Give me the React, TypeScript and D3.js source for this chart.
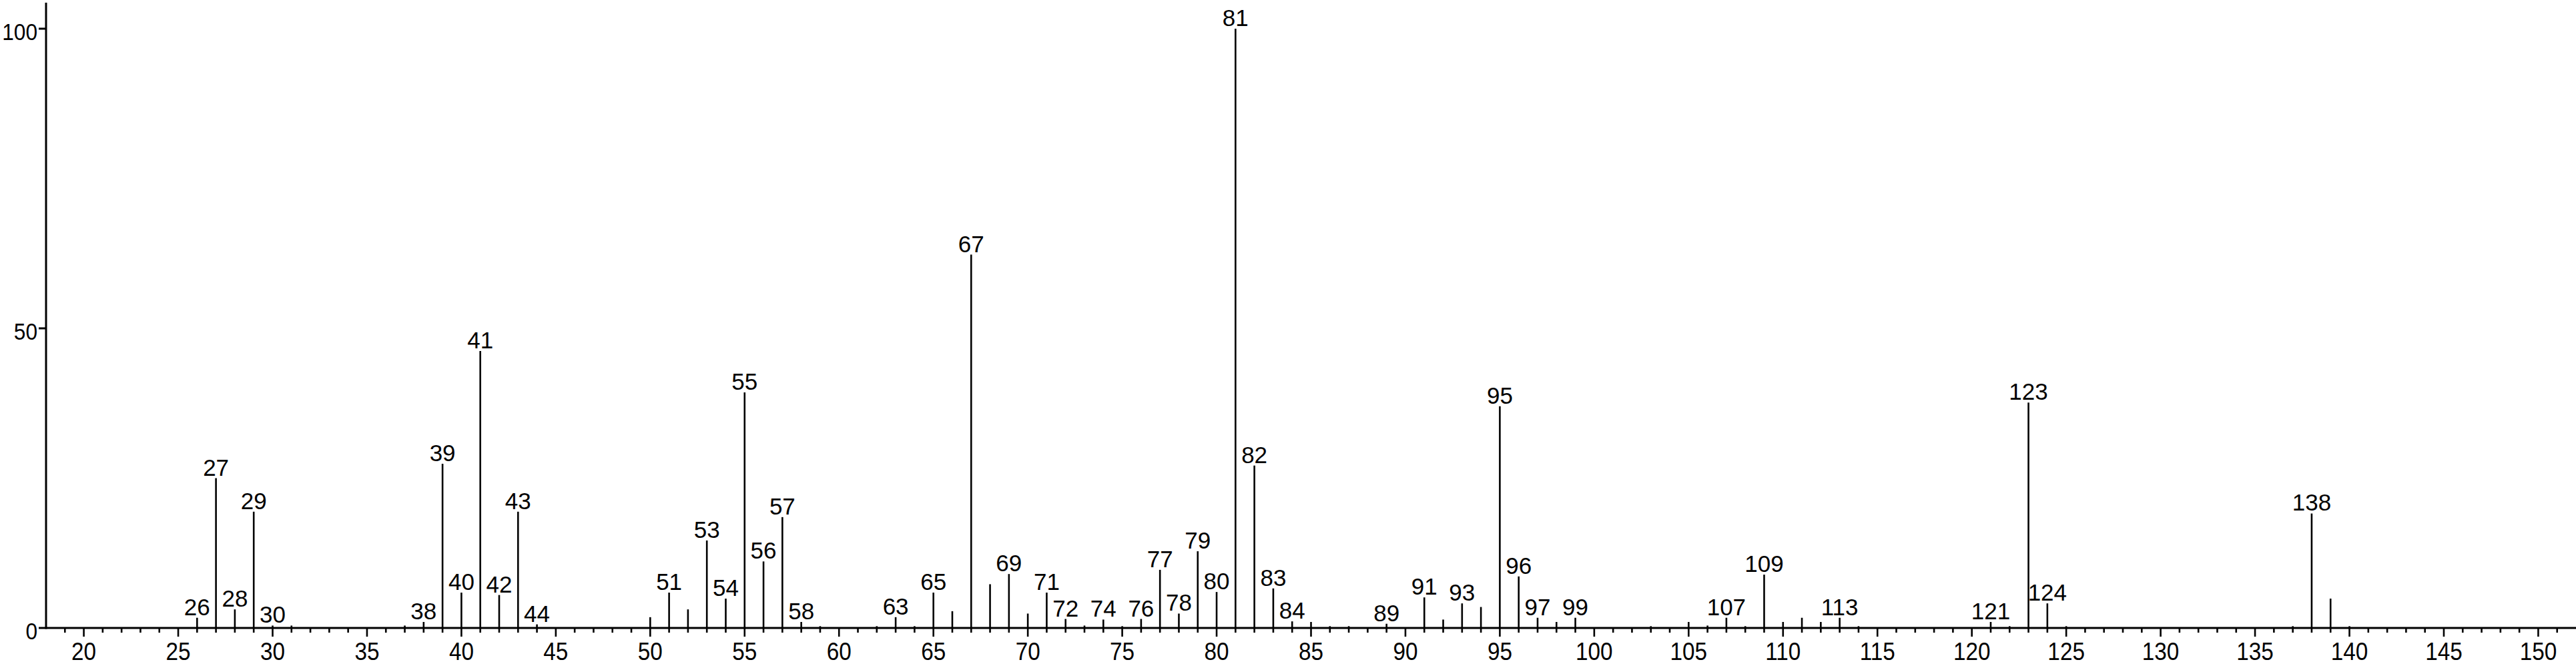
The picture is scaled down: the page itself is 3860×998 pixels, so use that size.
import React from "react";
import * as d3 from "d3";

// m/z values and relative intensities (%)
const mzValues = [
  26, 27, 28, 29, 30, 31, 37, 38, 39, 40, 41, 42, 43, 44,
  50, 51, 52, 53, 54, 55, 56, 57, 58, 59, 62, 63, 64, 65, 66, 67, 68, 69, 70,
  71, 72, 73, 74, 75, 76, 77, 78, 79, 80, 81, 82, 83, 84, 85, 86, 87, 89,
  91, 92, 93, 94, 95, 96, 97, 98, 99, 103, 105, 106, 107, 108, 109, 110, 111, 112,
  113, 114, 121, 122, 123, 124, 125, 137, 138, 139, 140,
];
const intensities = [
  1.7, 25.0, 3.1, 19.4, 0.4, 0.4, 0.4, 1.0, 27.4, 5.9, 46.2, 5.5, 19.4, 0.6,
  1.8, 5.9, 3.1, 14.6, 4.9, 39.3, 11.1, 18.5, 1.0, 0.3, 0.3, 1.8, 0.3, 5.9, 2.8, 62.3, 7.3, 9.0, 2.4,
  5.9, 1.5, 0.4, 1.4, 0.3, 1.5, 9.7, 2.4, 12.8, 6.0, 100, 27.1, 6.6, 1.1, 1.0, 0.3, 0.3, 0.7,
  5.1, 1.4, 4.1, 3.5, 37.0, 8.6, 1.7, 1.0, 1.7, 0.3, 1.0, 0.4, 1.7, 0.3, 8.9, 1.0, 1.7, 1.0,
  1.7, 0.3, 1.0, 0.3, 37.6, 4.1, 0.3, 0.3, 19.1, 4.9, 0.3,
];
const labeledPeaks = [
  26, 27, 28, 29, 30, 38, 39, 40, 41, 42, 43, 44, 51, 53, 54, 55, 56, 57, 58, 63, 65,
  67, 69, 71, 72, 74, 76, 77, 78, 79, 80, 81, 82, 83, 84, 89, 91, 93, 95, 96, 97, 99,
  107, 109, 113, 121, 123, 124, 138,
];
const xMajorTicks = [20, 25, 30, 35, 40, 45, 50, 55, 60, 65, 70, 75, 80, 85, 90, 95, 100, 105, 110, 115, 120, 125, 130, 135, 140, 145, 150];
const yTicks = [0, 50, 100];

const FONT = "'Liberation Sans', Arial, Helvetica, sans-serif";

export default function App() {
  const W = 3860;
  const H = 998;
  const x = d3.scaleLinear().domain([18, 152]).range([69, 3860]);
  const y = d3.scaleLinear().domain([0, 100]).range([941, 43]);
  const minorTicks = d3.range(19, 152).filter((v) => v % 5 !== 0);
  const peaks = mzValues.map((m, i) => ({ m, v: intensities[i] }));
  const axisY = y(0);

  return (
    <svg
      width={W}
      height={H}
      viewBox={`0 0 ${W} ${H}`}
      style={{ position: "absolute", left: 0, top: 0, background: "#fff" }}
      fontFamily={FONT}
    >
      <rect x={0} y={0} width={W} height={H} fill="#fff" />
      {/* peaks */}
      {peaks.map((p) => (
        <line
          key={`p${p.m}`}
          x1={x(p.m)}
          x2={x(p.m)}
          y1={axisY}
          y2={y(p.v)}
          stroke="#000"
          strokeWidth={2.6}
        />
      ))}
      {/* peak labels */}
      {peaks
        .filter((p) => labeledPeaks.includes(p.m))
        .map((p) => (
          <text
            key={`l${p.m}`}
            x={x(p.m)}
            y={y(p.v) - 4}
            textAnchor="middle"
            fontSize={35}
            fill="#000"
          >
            {p.m}
          </text>
        ))}
      {/* x axis */}
      <line x1={x(18)} x2={x(152)} y1={axisY} y2={axisY} stroke="#000" strokeWidth={3} />
      {minorTicks.map((t) => (
        <line key={`mt${t}`} x1={x(t)} x2={x(t)} y1={axisY} y2={axisY + 7} stroke="#000" strokeWidth={2.6} />
      ))}
      {xMajorTicks.map((t) => (
        <g key={`xt${t}`}>
          <line x1={x(t)} x2={x(t)} y1={axisY} y2={axisY + 13} stroke="#000" strokeWidth={2.6} />
          <text
            transform={`translate(${x(t)},${axisY + 48}) scale(0.9,1)`}
            textAnchor="middle"
            fontSize={37}
            fill="#000"
          >
            {t}
          </text>
        </g>
      ))}
      {/* y axis */}
      <line x1={x(18)} x2={x(18)} y1={4} y2={axisY + 1.5} stroke="#000" strokeWidth={3} />
      {yTicks.map((t) => (
        <g key={`yt${t}`}>
          <line x1={x(18) - 11} x2={x(18)} y1={y(t)} y2={y(t)} stroke="#000" strokeWidth={3} />
          <text
            transform={`translate(${x(18) - 13},${y(t) + 17}) scale(0.88,1)`}
            textAnchor="end"
            fontSize={36}
            fill="#000"
          >
            {t}
          </text>
        </g>
      ))}
    </svg>
  );
}
